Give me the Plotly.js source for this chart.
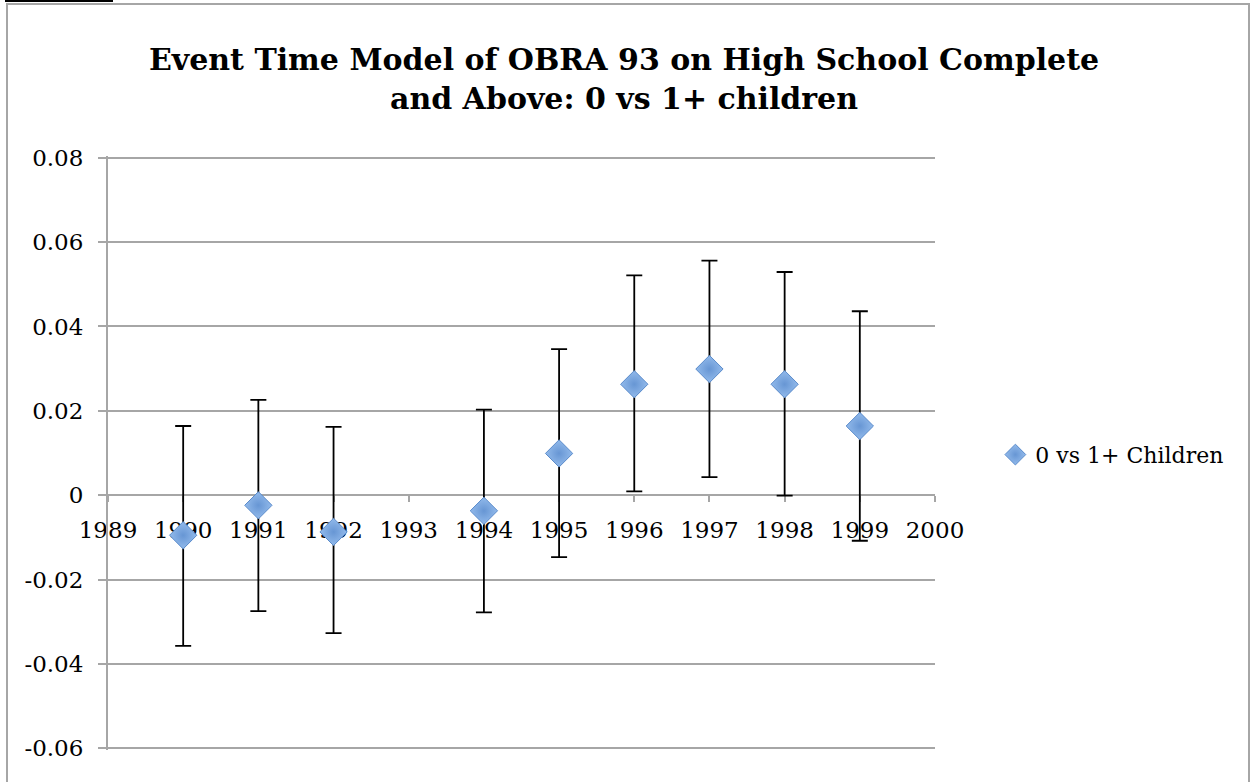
<!DOCTYPE html>
<html>
<head>
<meta charset="utf-8">
<script src="https://cdn.plot.ly/plotly-3.0.1.min.js"></script>
<style>
html,body{margin:0;padding:0;background:#fff;overflow:hidden;}
#frame{position:absolute;left:6px;top:3px;width:1244px;height:800px;border-left:2px solid #A6A6A6;border-top:2px solid #A6A6A6;border-right:2px solid #A6A6A6;box-sizing:border-box;pointer-events:none;z-index:2;}
#bar{position:absolute;left:5px;top:0;width:108px;height:2px;background:#000;z-index:3;}
#chart{position:absolute;left:0;top:0;width:1253px;height:782px;}
</style>
</head>
<body>
<div id="chart"></div>
<div id="frame"></div>
<div id="bar"></div>
<script>
const years = [1990, 1991, 1992, 1994, 1995, 1996, 1997, 1998, 1999];
const estimates = [-0.0095, -0.0024, -0.0087, -0.0037, 0.0099, 0.0263, 0.0299, 0.0263, 0.0164];
const errUpper = [0.0259, 0.0250, 0.0249, 0.0240, 0.0247, 0.0258, 0.0257, 0.0266, 0.0272];
const errLower = [0.0262, 0.0251, 0.0240, 0.0241, 0.0246, 0.0254, 0.0256, 0.0264, 0.0272];
const seriesName = '0 vs 1+ Children';
const xTickVals = [1989, 1990, 1991, 1992, 1993, 1994, 1995, 1996, 1997, 1998, 1999, 2000];
const yTickVals = [-0.06, -0.04, -0.02, 0, 0.02, 0.04, 0.06, 0.08];
const yTickText = ['-0.06', '-0.04', '-0.02', '0', '0.02', '0.04', '0.06', '0.08'];
const titleText = 'Event Time Model of OBRA 93 on High School Complete<br>and Above: 0 vs 1+ children';

const serif = 'DejaVu Serif, Liberation Serif, serif';
const grid = '#A6A6A6';

const trace = {
  x: years, y: estimates, type: 'scatter', mode: 'markers', name: seriesName,
  marker: {symbol: 'diamond', size: 21, color: '#92BAEB',
           gradient: {type: 'radial', color: '#6796D4'},
           line: {color: '#5A8BCB', width: 1}},
  error_y: {type: 'data', symmetric: false, array: errUpper, arrayminus: errLower,
            color: '#000', thickness: 1.8, width: 8}
};

const layout = {
  width: 1253, height: 782,
  margin: {l: 108, r: 318, t: 156, b: 32, pad: 0},
  paper_bgcolor: '#fff', plot_bgcolor: 'rgba(0,0,0,0)',
  font: {family: serif, color: '#000', size: 23},
  title: {text: titleText, font: {family: serif, size: 30, weight: 'bold', color: '#000'},
          x: 0.498, xanchor: 'center', y: 0.91, yanchor: 'top'},
  showlegend: true,
  legend: {x: 1.073, xanchor: 'left', y: 0.497, yanchor: 'middle',
           font: {family: serif, size: 22, color: '#000'}, itemwidth: 30, tracegroupgap: 0},
  xaxis: {range: [1989, 2000], tickvals: xTickVals, ticktext: xTickVals.map(String),
          showgrid: false, zeroline: false, showline: true, linecolor: grid, linewidth: 2,
          ticks: 'outside', ticklen: 6, tickcolor: grid, tickwidth: 2,
          ticklabelstandoff: 8,
          anchor: 'free', position: 0.428571, layer: 'below traces',
          tickfont: {family: serif, size: 23, color: '#000'}, fixedrange: true},
  yaxis: {range: [-0.0604, 0.0804], tickvals: yTickVals, ticktext: yTickText,
          showgrid: true, gridcolor: grid, gridwidth: 2, zeroline: false,
          showline: true, linecolor: grid, linewidth: 2,
          ticks: 'outside', ticklen: 8, tickcolor: grid, tickwidth: 2,
          ticklabelstandoff: 10,
          tickfont: {family: serif, size: 23, color: '#000'}, fixedrange: true}
};

Plotly.newPlot('chart', [trace], layout, {displayModeBar: false, staticPlot: true});
</script>
</body>
</html>
